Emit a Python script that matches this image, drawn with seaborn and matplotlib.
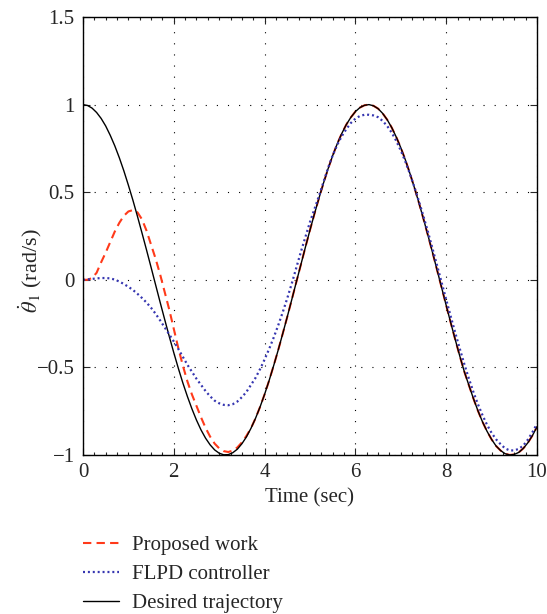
import numpy as np
import pandas as pd
import matplotlib
matplotlib.use("Agg")
import matplotlib.pyplot as plt
from matplotlib.ticker import MultipleLocator
import seaborn as sns

# sample times (sec)
time = np.round(np.linspace(0, 10, 101), 2)

# desired trajectory
desired = [
    1.000, 0.995, 0.980, 0.955, 0.921, 0.878, 0.825, 0.765, 0.697, 0.622,
    0.540, 0.454, 0.362, 0.267, 0.170, 0.071, -0.029, -0.129, -0.227, -0.323,
    -0.416, -0.505, -0.589, -0.666, -0.737, -0.801, -0.857, -0.904, -0.942, -0.971,
    -0.990, -0.999, -0.998, -0.987, -0.967, -0.936, -0.897, -0.848, -0.791, -0.726,
    -0.654, -0.575, -0.490, -0.401, -0.307, -0.211, -0.112, -0.012, 0.087, 0.187,
    0.284, 0.378, 0.468, 0.554, 0.635, 0.709, 0.776, 0.835, 0.886, 0.927,
    0.960, 0.983, 0.996, 1.000, 0.993, 0.977, 0.950, 0.914, 0.869, 0.815,
    0.754, 0.685, 0.608, 0.526, 0.439, 0.347, 0.252, 0.155, 0.055, -0.045,
    -0.146, -0.245, -0.342, -0.436, -0.525, -0.602, -0.678, -0.748, -0.811, -0.865,
    -0.911, -0.949, -0.975, -0.993, -1.000, -0.997, -0.985, -0.962, -0.930, -0.889,
    -0.839,
]

# proposed work, t = 0.0 .. 3.7 (afterwards it sits on the desired curve)
proposed_start = [
    0.000, 0.000, 0.010, 0.040, 0.100, 0.155, 0.215, 0.275, 0.325, 0.365,
    0.390, 0.398, 0.385, 0.345, 0.280, 0.200, 0.120, 0.030, -0.070, -0.170,
    -0.280, -0.390, -0.490, -0.580, -0.655, -0.720, -0.785, -0.845, -0.895, -0.935,
    -0.962, -0.978, -0.983, -0.975, -0.957, -0.928, -0.891, -0.847,
]
proposed = proposed_start + desired[len(proposed_start):]

# FLPD controller
flpd = [
    0.000, 0.002, 0.005, 0.008, 0.010, 0.010, 0.008, 0.001, -0.010, -0.024,
    -0.040, -0.058, -0.080, -0.104, -0.130, -0.160, -0.194, -0.232, -0.272, -0.312,
    -0.352, -0.395, -0.440, -0.485, -0.525, -0.565, -0.600, -0.635, -0.665, -0.690,
    -0.705, -0.714, -0.716, -0.710, -0.695, -0.670, -0.640, -0.600, -0.560, -0.510,
    -0.455, -0.395, -0.330, -0.260, -0.185, -0.105, -0.020, 0.070, 0.160, 0.245,
    0.330, 0.405, 0.480, 0.560, 0.640, 0.710, 0.770, 0.820, 0.860, 0.895,
    0.920, 0.935, 0.942, 0.942, 0.938, 0.928, 0.907, 0.878, 0.840, 0.793,
    0.738, 0.675, 0.605, 0.529, 0.448, 0.362, 0.272, 0.177, 0.081, -0.016,
    -0.113, -0.209, -0.303, -0.394, -0.482, -0.564, -0.641, -0.711, -0.773, -0.828,
    -0.874, -0.911, -0.939, -0.963, -0.974, -0.974, -0.965, -0.946, -0.912, -0.870,
    -0.822,
]

labels = ["Proposed work", "FLPD controller", "Desired trajectory"]

sns.set_style("ticks")
plt.rcParams["font.family"] = ["Liberation Serif", "DejaVu Serif"]
plt.rcParams["mathtext.fontset"] = "stix"
plt.rcParams["font.size"] = 15

df = pd.DataFrame({"t": time, "proposed": proposed, "flpd": flpd, "desired": desired})

fig = plt.figure(figsize=(5.47, 6.14), dpi=100)
ax = fig.add_axes([0.1517, 0.259, 0.83, 0.7133])

sns.lineplot(data=df, x="t", y="proposed", ax=ax, color="#ff3a1a",
             linewidth=1.5, linestyle=(0, (4, 2.5)), label=labels[0])
sns.lineplot(data=df, x="t", y="desired", ax=ax, color="black",
             linewidth=1.0, label=labels[2])
sns.lineplot(data=df, x="t", y="flpd", ax=ax, color="#3535b0",
             linewidth=1.6, linestyle=(0, (0.9, 1.3)), label=labels[1])

ax.set_xlim(0, 10)
ax.set_ylim(-1, 1.5)
ax.set_xticks([0, 2, 4, 6, 8, 10])
ax.set_yticks([-1, -0.5, 0, 0.5, 1, 1.5])
ax.set_yticklabels(["\u22121", "\u22120.5", "0", "0.5", "1", "1.5"])
ax.xaxis.set_minor_locator(MultipleLocator(0.25))
ax.tick_params(which="both", direction="in", top=True, right=True, width=0.8)
ax.tick_params(which="major", length=5, labelsize=15, pad=6)
ax.tick_params(which="minor", length=2.5)
ax.grid(True, which="major", color="black", linestyle=(0, (1, 9)), linewidth=0.8)
for s in ax.spines.values():
    s.set_linewidth(1.0)
    s.set_color("black")

ax.set_xlabel("Time (sec)", fontsize=15, labelpad=4)
ax.set_ylabel(r"$\dot{\theta}_1$ (rad/s)", fontsize=16)
ax.yaxis.set_label_coords(-0.085, 0.42)

handles, labs = ax.get_legend_handles_labels()
order = [labs.index(l) for l in labels]
ax.get_legend().remove()
fig.legend([handles[i] for i in order], labels, loc="upper left",
           bbox_to_anchor=(0.118, 0.158), frameon=False, fontsize=15,
           handlelength=1.7, labelspacing=0.45, handletextpad=0.65)

fig.savefig("out.png", dpi=100)
